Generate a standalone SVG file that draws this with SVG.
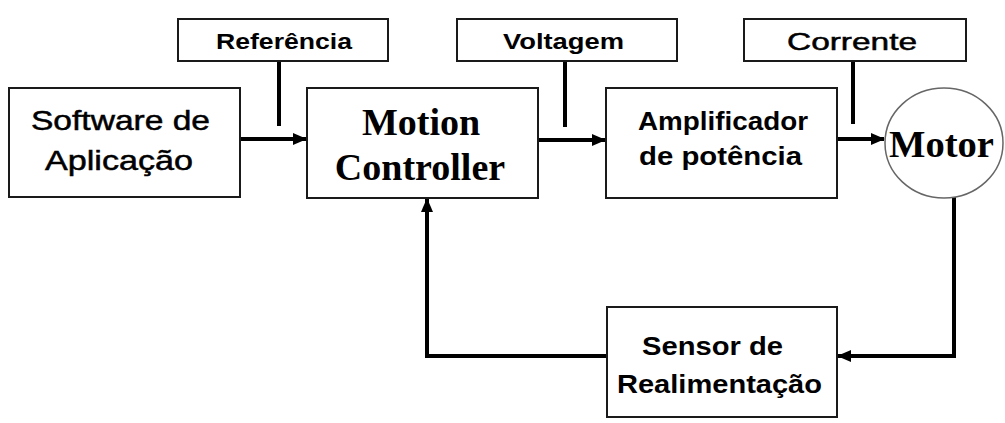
<svg xmlns="http://www.w3.org/2000/svg" width="1005" height="423" viewBox="0 0 1005 423">
<style>
.box{fill:#fff;stroke:#1a1a1a;stroke-width:2}
.sans{font-family:"Liberation Sans",Arial,sans-serif;fill:#000}
.b{font-weight:bold}
.m{stroke:#000;stroke-width:0.5}
.serif{font-family:"Liberation Serif","Times New Roman",serif;font-weight:bold;fill:#000}
.wire{fill:none;stroke:#000;stroke-width:4}
</style>
<defs>
<marker id="ah" markerUnits="userSpaceOnUse" markerWidth="14" markerHeight="12" refX="13" refY="6" orient="auto">
<path d="M0,0 L14,6 L0,12 z" fill="#000"/>
</marker>
</defs>
<rect width="1005" height="423" fill="#fff"/>
<g id="connectors">
<line class="wire" x1="279" y1="61" x2="279" y2="126"/>
<line class="wire" x1="565" y1="61" x2="565" y2="127"/>
<line class="wire" x1="853" y1="61" x2="853" y2="124"/>
<line class="wire" x1="241" y1="139" x2="306" y2="139" marker-end="url(#ah)"/>
<line class="wire" x1="538" y1="140" x2="605" y2="140" marker-end="url(#ah)"/>
<line class="wire" x1="837" y1="139" x2="884" y2="139" marker-end="url(#ah)"/>
<path class="wire" d="M954,197 V356 H838" marker-end="url(#ah)"/>
<path class="wire" d="M607,356 H427 V199" marker-end="url(#ah)"/>
</g>
<g id="referencia">
<rect class="box" x="178" y="19" width="210" height="42"/>
<text class="sans b" x="216" y="48.5" font-size="22" textLength="136" lengthAdjust="spacingAndGlyphs">Referência</text>
</g>
<g id="voltagem">
<rect class="box" x="457" y="19" width="220" height="42"/>
<text class="sans b" x="503" y="48.5" font-size="22.5" textLength="121" lengthAdjust="spacingAndGlyphs">Voltagem</text>
</g>
<g id="corrente">
<rect class="box" x="744" y="19" width="222" height="42"/>
<text class="sans m" x="787" y="50" font-size="24" textLength="130" lengthAdjust="spacingAndGlyphs">Corrente</text>
</g>
<g id="software">
<rect class="box" x="9" y="88" width="231" height="109"/>
<text class="sans m" x="31" y="130" font-size="27.5" textLength="179" lengthAdjust="spacingAndGlyphs">Software de</text>
<text class="sans m" x="45" y="170" font-size="27.5" textLength="148" lengthAdjust="spacingAndGlyphs">Aplicação</text>
</g>
<g id="motion-controller">
<rect class="box" x="307" y="88" width="231" height="110"/>
<text class="serif" x="421" y="135" font-size="38" text-anchor="middle">Motion</text>
<text class="serif" x="420" y="180" font-size="38" text-anchor="middle">Controller</text>
</g>
<g id="amplificador">
<rect class="box" x="606" y="88" width="231" height="110"/>
<text class="sans b" x="638" y="130" font-size="25" textLength="170" lengthAdjust="spacingAndGlyphs">Amplificador</text>
<text class="sans b" x="639" y="165" font-size="25" textLength="163" lengthAdjust="spacingAndGlyphs">de potência</text>
</g>
<g id="motor">
<ellipse cx="944" cy="143" rx="59" ry="55" fill="#fff" stroke="#666" stroke-width="1.5"/>
<text class="serif" x="889" y="157" font-size="38" textLength="105" lengthAdjust="spacingAndGlyphs">Motor</text>
</g>
<g id="sensor">
<rect class="box" x="607" y="307" width="230" height="110"/>
<text class="sans b" x="642" y="355" font-size="26" textLength="141" lengthAdjust="spacingAndGlyphs">Sensor de</text>
<text class="sans b" x="617" y="393" font-size="26" textLength="205" lengthAdjust="spacingAndGlyphs">Realimentação</text>
</g>
</svg>
